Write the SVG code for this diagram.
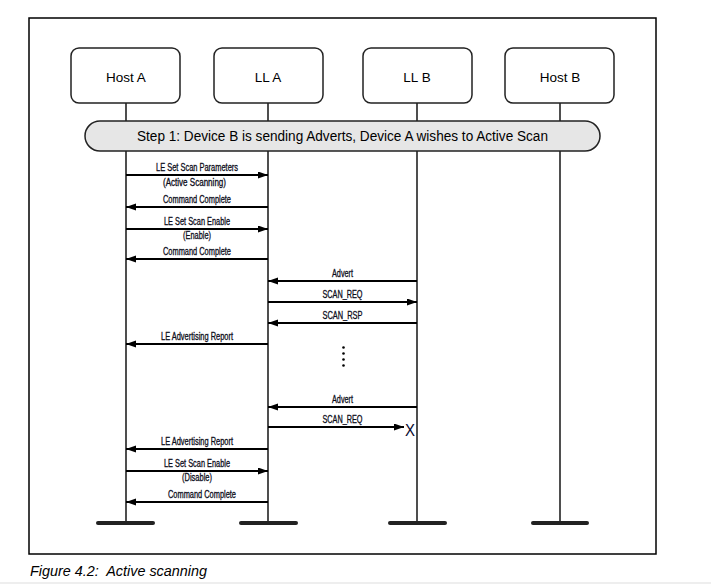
<svg xmlns="http://www.w3.org/2000/svg" width="711" height="584" viewBox="0 0 711 584">
<style>
.box{fill:#fff;stroke:#222;stroke-width:1.5}
.life{stroke:#222;stroke-width:1.6;fill:none}
.bar{stroke:#222;stroke-width:4;stroke-linecap:round}
.msg{stroke:#000;stroke-width:2;fill:none}
.lbl{font-family:"Liberation Sans",Arial,sans-serif;font-size:10px;fill:#0d0d1a;stroke:#0d0d1a;stroke-width:0.3;text-anchor:middle}
.name{font-family:"Liberation Sans",Arial,sans-serif;font-size:13.5px;fill:#000;text-anchor:middle}
</style>
<defs>
<marker id="ah" markerUnits="userSpaceOnUse" markerWidth="11" markerHeight="8" refX="10" refY="3.5" orient="auto">
<path d="M0,0 L10,3.5 L0,7 z" fill="#000"/>
</marker>
</defs>
<rect x="0" y="582" width="711" height="2" fill="#eeeeee"/>
<rect x="29" y="18" width="627" height="536" fill="#fff" stroke="#000" stroke-width="1.5"/>
<g id="lifelines">
<line class="life" x1="126" y1="103" x2="126" y2="523"/>
<line class="life" x1="268" y1="103" x2="268" y2="523"/>
<line class="life" x1="417" y1="103" x2="417" y2="523"/>
<line class="life" x1="560" y1="103" x2="560" y2="523"/>
<line class="bar" x1="98" y1="523" x2="153" y2="523"/>
<line class="bar" x1="241" y1="523" x2="296" y2="523"/>
<line class="bar" x1="390" y1="523" x2="445" y2="523"/>
<line class="bar" x1="533" y1="523" x2="587" y2="523"/>
</g>
<g id="hostA"><rect class="box" x="71" y="48" width="109" height="55" rx="8"/><text class="name" x="126" y="82">Host A</text></g>
<g id="llA"><rect class="box" x="214" y="48" width="109" height="55" rx="8"/><text class="name" x="268" y="82">LL A</text></g>
<g id="llB"><rect class="box" x="363" y="48" width="109" height="55" rx="8"/><text class="name" x="417" y="82">LL B</text></g>
<g id="hostB"><rect class="box" x="505" y="48" width="109" height="55" rx="8"/><text class="name" x="560" y="82">Host B</text></g>
<g id="step">
<rect x="85" y="121" width="515" height="30" rx="15" fill="#e6e6e6" stroke="#222" stroke-width="1.5"/>
<text x="342.5" y="141" font-family="Liberation Sans,Arial,sans-serif" font-size="14" text-anchor="middle" textLength="411" lengthAdjust="spacingAndGlyphs">Step 1: Device B is sending Adverts, Device A wishes to Active Scan</text>
</g>
<g id="connectors">
<line class="msg" x1="126" y1="175" x2="268" y2="175" marker-end="url(#ah)"/>
<line class="msg" x1="268" y1="207" x2="126" y2="207" marker-end="url(#ah)"/>
<line class="msg" x1="126" y1="229" x2="268" y2="229" marker-end="url(#ah)"/>
<line class="msg" x1="268" y1="259" x2="126" y2="259" marker-end="url(#ah)"/>
<line class="msg" x1="417" y1="281" x2="268" y2="281" marker-end="url(#ah)"/>
<line class="msg" x1="268" y1="302" x2="417" y2="302" marker-end="url(#ah)"/>
<line class="msg" x1="417" y1="323" x2="268" y2="323" marker-end="url(#ah)"/>
<line class="msg" x1="268" y1="344" x2="126" y2="344" marker-end="url(#ah)"/>
<line class="msg" x1="417" y1="407" x2="268" y2="407" marker-end="url(#ah)"/>
<line class="msg" x1="268" y1="427" x2="404" y2="427" marker-end="url(#ah)"/>
<line class="msg" x1="268" y1="449" x2="126" y2="449" marker-end="url(#ah)"/>
<line class="msg" x1="126" y1="471" x2="268" y2="471" marker-end="url(#ah)"/>
<line class="msg" x1="268" y1="502" x2="126" y2="502" marker-end="url(#ah)"/>
</g>
<g id="labels">
<text class="lbl" x="197" y="171" textLength="82" lengthAdjust="spacingAndGlyphs">LE Set Scan Parameters</text>
<text class="lbl" x="194.5" y="185.5" textLength="63" lengthAdjust="spacingAndGlyphs">(Active Scanning)</text>
<text class="lbl" x="197" y="203" textLength="68" lengthAdjust="spacingAndGlyphs">Command Complete</text>
<text class="lbl" x="197" y="225" textLength="66" lengthAdjust="spacingAndGlyphs">LE Set Scan Enable</text>
<text class="lbl" x="197" y="238.5" textLength="28" lengthAdjust="spacingAndGlyphs">(Enable)</text>
<text class="lbl" x="197" y="255" textLength="68" lengthAdjust="spacingAndGlyphs">Command Complete</text>
<text class="lbl" x="342.5" y="277" textLength="21" lengthAdjust="spacingAndGlyphs">Advert</text>
<text class="lbl" x="342.5" y="298" textLength="40" lengthAdjust="spacingAndGlyphs">SCAN_REQ</text>
<text class="lbl" x="342.5" y="319" textLength="40" lengthAdjust="spacingAndGlyphs">SCAN_RSP</text>
<text class="lbl" x="197" y="340" textLength="72" lengthAdjust="spacingAndGlyphs">LE Advertising Report</text>
<text class="lbl" x="342.5" y="403" textLength="21" lengthAdjust="spacingAndGlyphs">Advert</text>
<text class="lbl" x="342.5" y="423" textLength="40" lengthAdjust="spacingAndGlyphs">SCAN_REQ</text>
<text x="410" y="435.5" font-family="Liberation Sans,Arial,sans-serif" font-size="16.5" text-anchor="middle" fill="#0a0a30" textLength="10" lengthAdjust="spacingAndGlyphs">X</text>
<text class="lbl" x="197" y="445" textLength="72" lengthAdjust="spacingAndGlyphs">LE Advertising Report</text>
<text class="lbl" x="197" y="467" textLength="66" lengthAdjust="spacingAndGlyphs">LE Set Scan Enable</text>
<text class="lbl" x="197" y="481" textLength="30" lengthAdjust="spacingAndGlyphs">(Disable)</text>
<text class="lbl" x="202" y="498" textLength="68" lengthAdjust="spacingAndGlyphs">Command Complete</text>
</g>
<g id="dots" fill="#000">
<circle cx="343.5" cy="347.5" r="1.3"/>
<circle cx="343.5" cy="353.5" r="1.3"/>
<circle cx="343.5" cy="359.5" r="1.3"/>
<circle cx="343.5" cy="365.5" r="1.3"/>
</g>
<text x="30" y="576" font-family="Liberation Sans,Arial,sans-serif" font-size="14" font-style="italic" textLength="177" lengthAdjust="spacingAndGlyphs" xml:space="preserve">Figure 4.2:  Active scanning</text>
</svg>
